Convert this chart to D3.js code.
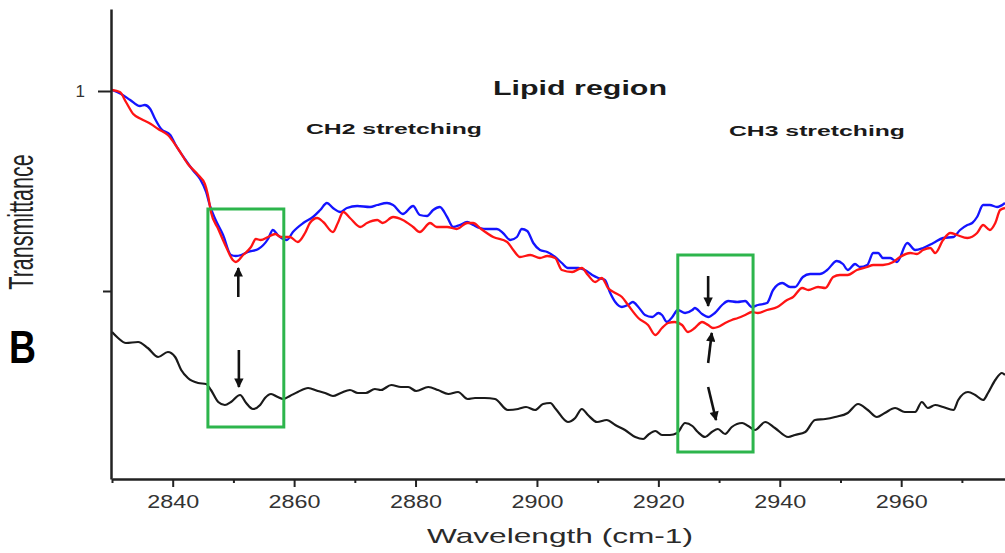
<!DOCTYPE html>
<html>
<head>
<meta charset="utf-8">
<script src="https://cdn.jsdelivr.net/npm/d3@7"></script>
<style>
  body { margin: 0; background: #fff; }
  svg { display: block; font-family: "Liberation Sans", Arial, sans-serif; }
</style>
</head>
<body>
<div id="chart"></div>
<script>
// spectra: [wavenumber, transmittance]
var blueSeries = [
  [2830.0,1.0005],[2831.5,0.9985],[2833.0,0.9955],[2834.6,0.9925],[2835.4,0.9930],[2836.3,0.9910],[2837.1,0.9860],[2838.1,0.9810],[2839.6,0.9780],[2840.4,0.9735],
  [2842.0,0.9660],[2843.3,0.9605],[2844.5,0.9560],[2845.5,0.9495],[2846.1,0.9430],[2847.0,0.9360],[2848.3,0.9280],[2849.6,0.9180],[2850.4,0.9175],[2851.3,0.9180],
  [2852.4,0.9195],[2854.1,0.9210],[2855.7,0.9260],[2856.5,0.9305],[2857.3,0.9280],[2857.7,0.9270],[2858.8,0.9255],[2859.8,0.9295],[2861.5,0.9340],[2863.1,0.9370],
  [2864.3,0.9405],[2865.4,0.9440],[2866.4,0.9415],[2867.6,0.9395],[2868.7,0.9415],[2870.4,0.9425],[2872.5,0.9420],[2873.7,0.9430],[2875.3,0.9440],[2876.3,0.9430],
  [2877.9,0.9385],[2879.6,0.9425],[2880.7,0.9380],[2881.9,0.9375],[2882.9,0.9405],[2884.0,0.9420],[2885.2,0.9370],[2886.2,0.9320],[2887.3,0.9330],[2888.5,0.9345],
  [2889.5,0.9330],[2890.6,0.9315],[2891.8,0.9310],[2893.4,0.9310],[2894.4,0.9290],[2895.6,0.9255],[2896.7,0.9270],[2897.5,0.9310],[2898.4,0.9300],[2899.4,0.9240],
  [2900.5,0.9205],[2901.7,0.9195],[2903.0,0.9170],[2904.1,0.9140],[2905.1,0.9115],[2906.8,0.9115],[2907.9,0.9105],[2909.1,0.9080],[2910.1,0.9065],[2911.2,0.9055],
  [2912.0,0.8995],[2912.9,0.8945],[2914.0,0.8920],[2915.0,0.8930],[2915.8,0.8945],[2916.7,0.8920],[2917.8,0.8880],[2919.0,0.8870],[2920.0,0.8890],[2920.6,0.8880],
  [2921.4,0.8845],[2922.3,0.8870],[2923.2,0.8905],[2924.4,0.8890],[2925.6,0.8905],[2926.0,0.8915],[2927.2,0.8885],[2928.2,0.8870],[2929.3,0.8890],[2930.5,0.8930],
  [2931.5,0.8950],[2933.0,0.8945],[2934.3,0.8950],[2935.4,0.8920],[2936.4,0.8930],[2937.9,0.8940],[2938.9,0.9005],[2940.4,0.9040],[2941.7,0.9020],[2942.5,0.9020],
  [2943.8,0.9070],[2945.0,0.9085],[2946.6,0.9085],[2947.8,0.9105],[2949.4,0.9150],[2950.4,0.9135],[2951.2,0.9105],[2952.4,0.9135],[2953.2,0.9120],[2954.4,0.9130],
  [2955.4,0.9190],[2956.2,0.9190],[2957.0,0.9165],[2958.2,0.9165],[2959.3,0.9145],[2961.0,0.9240],[2962.3,0.9205],[2963.6,0.9215],[2965.3,0.9240],[2966.9,0.9265],
  [2968.6,0.9270],[2969.7,0.9305],[2970.9,0.9330],[2971.7,0.9340],[2972.5,0.9370],[2973.5,0.9430],[2974.6,0.9430],[2975.8,0.9420],[2977.1,0.9440]
];

var redSeries = [
  [2830.0,1.0005],[2831.3,0.9995],[2832.3,0.9945],[2833.5,0.9885],[2834.8,0.9860],[2836.4,0.9835],[2837.6,0.9810],[2839.2,0.9780],[2840.9,0.9710],[2842.5,0.9635],
  [2844.2,0.9580],[2845.3,0.9535],[2845.8,0.9480],[2846.3,0.9395],[2847.5,0.9310],[2848.8,0.9220],[2849.9,0.9155],[2850.4,0.9145],[2851.6,0.9180],[2852.9,0.9220],
  [2853.7,0.9260],[2854.5,0.9255],[2855.7,0.9270],[2856.9,0.9285],[2857.8,0.9270],[2859.3,0.9270],[2860.6,0.9245],[2861.8,0.9290],[2862.6,0.9340],[2863.8,0.9365],
  [2864.8,0.9345],[2866.4,0.9295],[2867.2,0.9340],[2868.1,0.9395],[2869.2,0.9365],[2870.9,0.9320],[2872.0,0.9340],[2873.7,0.9355],[2874.6,0.9340],[2876.3,0.9370],
  [2877.9,0.9355],[2879.6,0.9320],[2880.7,0.9295],[2882.4,0.9340],[2883.5,0.9320],[2885.2,0.9320],[2886.8,0.9310],[2888.5,0.9340],[2889.5,0.9340],[2890.6,0.9315],
  [2892.8,0.9270],[2895.1,0.9245],[2896.1,0.9205],[2897.2,0.9170],[2898.9,0.9180],[2900.5,0.9165],[2901.7,0.9175],[2903.0,0.9165],[2904.1,0.9105],[2905.8,0.9095],
  [2907.4,0.9115],[2908.4,0.9080],[2909.6,0.9045],[2910.7,0.9065],[2911.7,0.9015],[2912.9,0.8990],[2914.0,0.8970],[2915.0,0.8930],[2916.7,0.8865],[2918.3,0.8830],
  [2919.5,0.8780],[2920.6,0.8815],[2921.6,0.8840],[2922.7,0.8845],[2923.9,0.8830],[2924.9,0.8795],[2926.0,0.8815],[2927.2,0.8845],[2928.2,0.8830],[2929.0,0.8815],
  [2929.8,0.8820],[2931.0,0.8840],[2932.1,0.8855],[2933.1,0.8865],[2934.3,0.8880],[2935.4,0.8895],[2936.4,0.8890],[2937.9,0.8905],[2939.6,0.8920],[2941.2,0.8955],
  [2942.2,0.8970],[2943.7,0.9015],[2944.7,0.9005],[2946.3,0.9020],[2947.5,0.9015],[2948.8,0.9070],[2949.9,0.9080],[2951.2,0.9080],[2952.7,0.9105],[2954.4,0.9120],
  [2955.4,0.9130],[2957.0,0.9130],[2958.7,0.9145],[2959.8,0.9170],[2961.5,0.9190],[2962.6,0.9185],[2963.6,0.9205],[2964.8,0.9215],[2965.6,0.9190],[2966.9,0.9255],
  [2968.1,0.9290],[2969.2,0.9280],[2970.9,0.9265],[2972.5,0.9290],[2973.5,0.9330],[2974.6,0.9305],[2975.5,0.9340],[2976.3,0.9405],[2977.1,0.9415]
];

var blackSeries = [
  [2830.0,0.8795],[2831.0,0.8765],[2832.3,0.8740],[2834.3,0.8745],[2835.9,0.8715],[2837.6,0.8670],[2839.2,0.8695],[2840.4,0.8670],[2841.4,0.8605],[2842.5,0.8565],
  [2844.2,0.8540],[2845.5,0.8535],[2846.3,0.8505],[2847.5,0.8445],[2848.6,0.8430],[2849.6,0.8445],[2851.1,0.8480],[2852.1,0.8440],[2853.2,0.8410],[2854.4,0.8430],
  [2855.2,0.8465],[2856.2,0.8485],[2857.3,0.8470],[2858.2,0.8460],[2859.3,0.8475],[2860.6,0.8495],[2862.3,0.8515],[2863.9,0.8500],[2865.1,0.8490],[2866.4,0.8475],
  [2867.7,0.8490],[2869.2,0.8505],[2870.5,0.8490],[2871.8,0.8490],[2873.3,0.8510],[2874.3,0.8505],[2876.0,0.8530],[2877.6,0.8520],[2878.8,0.8520],[2880.1,0.8500],
  [2882.1,0.8520],[2883.7,0.8505],[2885.4,0.8485],[2887.0,0.8495],[2888.6,0.8460],[2889.8,0.8465],[2891.4,0.8465],[2893.1,0.8460],[2895.2,0.8405],[2896.9,0.8410],
  [2898.2,0.8420],[2899.7,0.8405],[2901.0,0.8435],[2902.2,0.8440],[2903.1,0.8410],[2905.1,0.8345],[2906.3,0.8365],[2907.4,0.8410],[2908.4,0.8380],[2909.9,0.8345],
  [2911.5,0.8355],[2912.9,0.8330],[2914.5,0.8305],[2916.2,0.8270],[2917.5,0.8260],[2918.3,0.8280],[2919.5,0.8300],[2920.6,0.8280],[2921.9,0.8280],[2923.1,0.8290],
  [2924.4,0.8340],[2925.6,0.8325],[2926.5,0.8295],[2927.7,0.8270],[2928.8,0.8295],[2929.8,0.8310],[2931.0,0.8285],[2932.1,0.8320],[2933.8,0.8340],[2934.8,0.8325],
  [2935.9,0.8305],[2937.6,0.8345],[2939.2,0.8315],[2941.4,0.8270],[2942.5,0.8280],[2944.2,0.8295],[2945.8,0.8355],[2947.5,0.8360],[2949.1,0.8370],[2951.2,0.8390],
  [2952.9,0.8435],[2954.5,0.8405],[2956.0,0.8370],[2957.3,0.8390],[2959.0,0.8415],[2960.6,0.8395],[2962.3,0.8395],[2963.4,0.8445],[2964.4,0.8415],[2965.6,0.8430],
  [2966.9,0.8420],[2968.6,0.8405],[2969.4,0.8455],[2971.0,0.8495],[2972.2,0.8480],[2973.5,0.8455],[2974.3,0.8490],[2975.5,0.8555],[2976.6,0.8590],[2977.1,0.8580]
];

// axis ticks
var xMajorTicks = [2840, 2860, 2880, 2900, 2920, 2940, 2960];
var xMinorTicks = [2830, 2850, 2870, 2890, 2910, 2930, 2950, 2970];
var yMajorTicks = [1];
var yMinorTicks = [0.9];

// highlighted regions [wn0, wn1, Ttop, Tbottom]
var boxes = [
  [2845.8, 2858.3, 0.9410, 0.8320],
  [2923.2, 2935.6, 0.9180, 0.8195]
];

// arrows [wnTail, Ttail, wnTip, Ttip]
var arrows = [
  [2850.8, 0.8970, 2850.8, 0.9115],
  [2850.9, 0.8705, 2850.9, 0.8520],
  [2928.2, 0.9075, 2928.2, 0.8925],
  [2928.2, 0.8640, 2928.8, 0.8790],
  [2928.2, 0.8520, 2929.5, 0.8355]
];

var width = 1005, height = 553;

var x = d3.scaleLinear().domain([2830, 2977.1]).range([112, 1005]);
var y = d3.scaleLinear().domain([0.806, 1.041]).range([479, 9]);

var svg = d3.select("#chart").append("svg")
  .attr("width", width)
  .attr("height", height);

svg.append("rect").attr("width", width).attr("height", height).attr("fill", "#fff");

var defs = svg.append("defs");
defs.append("marker")
  .attr("id", "head")
  .attr("viewBox", "0 0 10 10")
  .attr("refX", 9).attr("refY", 5)
  .attr("markerWidth", 4.2).attr("markerHeight", 3.6)
  .attr("markerUnits", "strokeWidth")
  .attr("orient", "auto")
  .append("path")
  .attr("d", "M0,0 L10,5 L0,10 Z")
  .attr("fill", "#111");

// spectra
var line = d3.line()
  .x(function(d) { return x(d[0]); })
  .y(function(d) { return y(d[1]); })
  .curve(d3.curveMonotoneX);

svg.append("path").datum(blueSeries)
  .attr("d", line).attr("fill", "none")
  .attr("stroke", "#1414ff").attr("stroke-width", 2.3);

svg.append("path").datum(redSeries)
  .attr("d", line).attr("fill", "none")
  .attr("stroke", "#ff1414").attr("stroke-width", 2.3);

svg.append("path").datum(blackSeries)
  .attr("d", line).attr("fill", "none")
  .attr("stroke", "#1a1a1a").attr("stroke-width", 2.2);

// green boxes
svg.selectAll(".box").data(boxes).enter()
  .append("rect")
  .attr("class", "box")
  .attr("x", function(d) { return x(d[0]); })
  .attr("y", function(d) { return y(d[2]); })
  .attr("width", function(d) { return x(d[1]) - x(d[0]); })
  .attr("height", function(d) { return y(d[3]) - y(d[2]); })
  .attr("fill", "none")
  .attr("stroke", "#2db54c")
  .attr("stroke-width", 3);

// arrows
svg.selectAll(".arrow").data(arrows).enter()
  .append("line")
  .attr("class", "arrow")
  .attr("x1", function(d) { return x(d[0]); })
  .attr("y1", function(d) { return y(d[1]); })
  .attr("x2", function(d) { return x(d[2]); })
  .attr("y2", function(d) { return y(d[3]); })
  .attr("stroke", "#111")
  .attr("stroke-width", 2.6)
  .attr("marker-end", "url(#head)");

// axes
var xAxis = svg.append("g")
  .attr("transform", "translate(0,479)")
  .call(d3.axisBottom(x).tickValues(xMajorTicks).tickSize(8).tickSizeOuter(0).tickPadding(8).tickFormat(d3.format("d")));
xAxis.append("g").call(d3.axisBottom(x).tickValues(xMinorTicks).tickSize(4).tickFormat(""))
  .select(".domain").remove();
xAxis.selectAll(".domain").attr("stroke", "#222").attr("stroke-width", 2.5);
xAxis.selectAll(".tick line").attr("stroke", "#222").attr("stroke-width", 2);
xAxis.selectAll(".tick text")
  .attr("fill", "#333")
  .attr("font-size", 19)
  .attr("textLength", 52)
  .attr("lengthAdjust", "spacingAndGlyphs");

var yAxis = svg.append("g")
  .attr("transform", "translate(111,0)")
  .call(d3.axisLeft(y).tickValues(yMajorTicks).tickSize(13).tickSizeOuter(0).tickPadding(13).tickFormat(d3.format("d")));
yAxis.append("g").call(d3.axisLeft(y).tickValues(yMinorTicks).tickSize(8).tickFormat(""))
  .select(".domain").remove();
yAxis.selectAll(".domain").attr("stroke", "#222").attr("stroke-width", 2.5);
yAxis.selectAll(".tick line").attr("stroke", "#222").attr("stroke-width", 2);
yAxis.selectAll(".tick text").attr("fill", "#333").attr("font-size", 17);

// titles and labels
svg.append("text")
  .attr("x", 493).attr("y", 95)
  .attr("font-size", 20).attr("font-weight", "bold").attr("fill", "#1a1a1a")
  .attr("textLength", 174).attr("lengthAdjust", "spacingAndGlyphs")
  .text("Lipid region");

svg.append("text")
  .attr("x", 306).attr("y", 134)
  .attr("font-size", 14.5).attr("font-weight", "bold").attr("fill", "#1a1a1a")
  .attr("textLength", 176).attr("lengthAdjust", "spacingAndGlyphs")
  .text("CH2 stretching");

svg.append("text")
  .attr("x", 729).attr("y", 136)
  .attr("font-size", 14.5).attr("font-weight", "bold").attr("fill", "#1a1a1a")
  .attr("textLength", 176).attr("lengthAdjust", "spacingAndGlyphs")
  .text("CH3 stretching");

svg.append("text")
  .attr("x", 427).attr("y", 543)
  .attr("font-size", 21).attr("fill", "#2a2a2a")
  .attr("textLength", 266).attr("lengthAdjust", "spacingAndGlyphs")
  .text("Wavelength (cm-1)");

svg.append("g")
  .attr("transform", "translate(33,222) rotate(-90) scale(1,1.6)")
  .append("text")
  .attr("text-anchor", "middle")
  .attr("font-size", 21.5).attr("fill", "#222")
  .text("Transmittance");

svg.append("text")
  .attr("x", 9).attr("y", 363)
  .attr("font-size", 47).attr("font-weight", "bold").attr("fill", "#000")
  .attr("textLength", 27).attr("lengthAdjust", "spacingAndGlyphs")
  .text("B");
</script>
</body>
</html>
